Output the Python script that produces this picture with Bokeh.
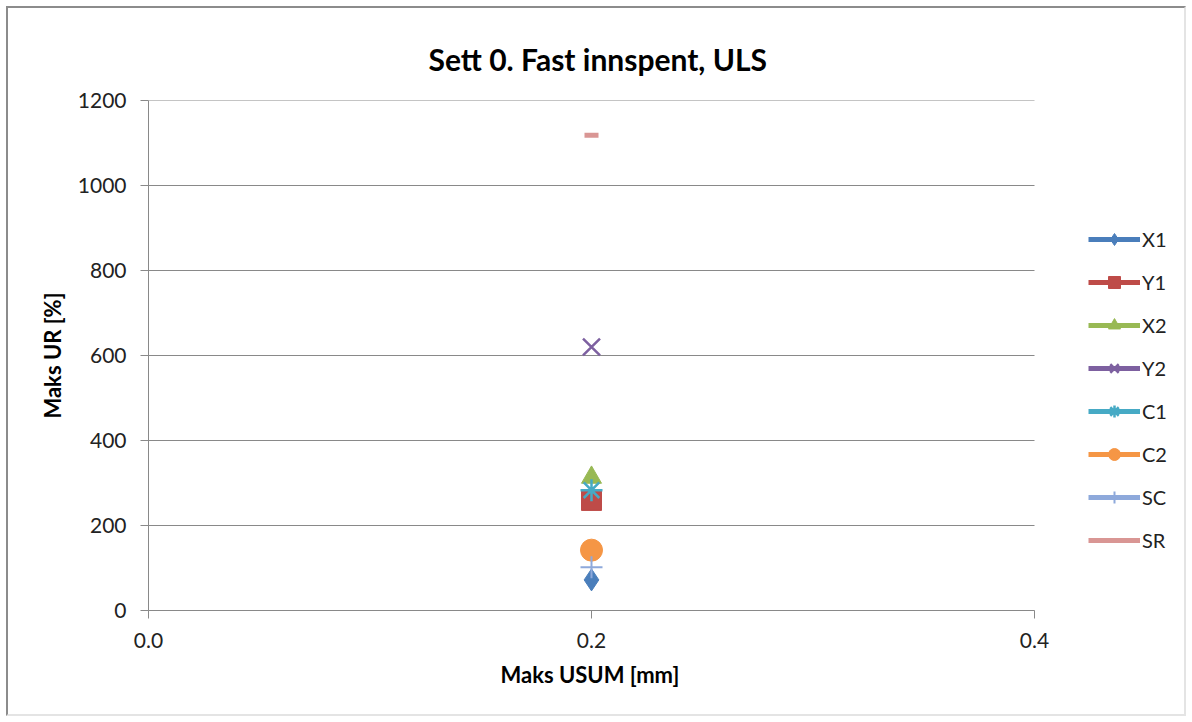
from bokeh.plotting import figure
from bokeh.models import Legend, LegendItem, FixedTicker, NumeralTickFormatter, Range1d, Title
from bokeh.embed import file_html
from bokeh.resources import INLINE

# ---- data ----
series = ["X1", "Y1", "X2", "Y2", "C1", "C2", "SC", "SR"]
usum = [0.2, 0.2, 0.2, 0.2, 0.2, 0.2, 0.2, 0.2]
ur = [72, 259, 313, 620, 283, 142, 102, 1118]
x_ticks = [0.0, 0.2, 0.4]
y_ticks = [0, 200, 400, 600, 800, 1000, 1200]

colors = ["#4A7EBB", "#BE4B48", "#98B954", "#7D60A0", "#46AAC5", "#F59645", "#8EA9DB", "#D99694"]
markers = ["diamond", "square", "triangle", "x", "asterisk", "circle", "cross", "dash"]
sizes = [22, 20, 20, 24, 22, 22, 22, 14]

FONT = "Lato"
GRID = "#898989"

W, H = 1180, 710
LEFT, TOP, PLOT_W, PLOT_H = 140, 92, 886, 510
FRAME_W = W - LEFT
X_MIN, X_MAX = x_ticks[0], x_ticks[-1]
x_view_end = X_MAX * FRAME_W / PLOT_W

p = figure(width=W, height=H, output_backend="svg", toolbar_location=None,
           x_range=Range1d(X_MIN, x_view_end), y_range=Range1d(y_ticks[0], y_ticks[-1]),
           min_border_left=LEFT, min_border_right=0, min_border_top=TOP,
           min_border_bottom=H - TOP - PLOT_H,
           title="Sett 0. Fast innspent, ULS")
p.styles = {"border": "2px solid #8c8c8c", "border-right-color": "#e4e4e4",
            "border-bottom-color": "#e4e4e4", "margin-left": "6px", "margin-top": "6px"}
p.outline_line_color = None
p.title.align = "left"
p.title.offset = 280
p.title.vertical_align = "top"
p.title.text_font = FONT
p.title.text_font_size = "30px"
p.title.text_font_style = "bold"
p.title.text_color = "#000000"
p.title.standoff = 44

p.xaxis.ticker = FixedTicker(ticks=x_ticks)
p.xaxis.formatter = NumeralTickFormatter(format="0.0")
p.xaxis.bounds = (X_MIN, X_MAX)
p.yaxis.ticker = FixedTicker(ticks=y_ticks)
p.yaxis.axis_label = "Maks UR [%]"
for ax in (p.xaxis[0], p.yaxis[0]):
    ax.axis_line_color = GRID
    ax.major_tick_line_color = GRID
    ax.minor_tick_line_color = None
    ax.major_tick_in = 0
    ax.major_tick_out = 8
    ax.major_label_text_font = FONT
    ax.major_label_text_font_size = "21px"
    ax.major_label_text_color = "#222222"
    ax.axis_label_text_font = FONT
    ax.axis_label_text_font_size = "22px"
    ax.axis_label_text_font_style = "bold"
    ax.axis_label_text_color = "#000000"
p.xaxis.major_label_standoff = 14
p.yaxis.major_label_standoff = 14
p.yaxis.axis_label_standoff = 9

# x-axis title centred under the 0–0.4 axis
xlab = Title(text="Maks USUM [mm]", align="left", offset=352, text_font=FONT,
             text_font_size="22px", text_font_style="bold", text_color="#000000", standoff=16)
p.add_layout(xlab, "below")

p.xgrid.grid_line_color = None
p.ygrid.grid_line_color = None
# horizontal gridlines only across the 0–0.4 plot area
p.segment(x0=[X_MIN] * len(y_ticks), x1=[X_MAX] * len(y_ticks), y0=y_ticks, y1=y_ticks,
          line_color=GRID, line_width=1)

items = []
for name, x, y, c, m, s in zip(series, usum, ur, colors, markers, sizes):
    ln = p.line([x], [y], line_color=c, line_width=5)
    lw = 2.5 if m in ("x", "asterisk") else 1
    if m == "cross":
        lw = 2
    if m == "dash":
        lw = 5
    sc = p.scatter([x], [y], marker=m, size=s, fill_color=c, line_color=c, line_width=lw)
    if m == "dash":
        items.append(LegendItem(label=name, renderers=[ln]))
    else:
        items.append(LegendItem(label=name, renderers=[ln, sc]))

legend = Legend(items=items, location=(940, 55))
legend.border_line_color = None
legend.background_fill_alpha = 0
legend.label_text_font = FONT
legend.label_text_font_size = "20px"
legend.label_text_color = "#222222"
legend.glyph_width = 52
legend.glyph_height = 30
legend.label_height = 30
legend.spacing = 13
legend.label_standoff = 2
legend.padding = 0
legend.margin = 0
p.add_layout(legend)

open("out.html", "w").write(file_html(p, INLINE))
